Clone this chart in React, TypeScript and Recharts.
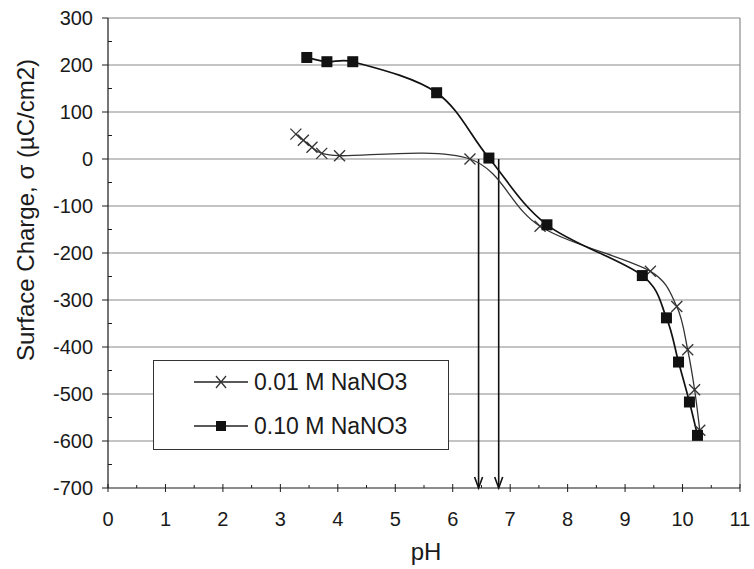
import { Label, Legend, Line, LineChart, ReferenceLine, XAxis, YAxis } from "recharts";

// 0.01 M NaNO3 (crosses)
const phLow = [3.27, 3.4, 3.55, 3.72, 4.03, 6.3, 7.52, 9.44, 9.9, 10.09, 10.21, 10.3];
const chargeLow = [53, 40, 25, 12, 7, 0, -143, -239, -314, -406, -491, -577];

// 0.10 M NaNO3 (squares)
const phHigh = [3.46, 3.81, 4.26, 5.72, 6.63, 7.64, 9.3, 9.72, 9.93, 10.12, 10.26];
const chargeHigh = [216, 207, 207, 141, 2, -140, -248, -338, -432, -517, -588];

const xTicks = [0, 0.5, 1, 1.5, 2, 2.5, 3, 3.5, 4, 4.5, 5, 5.5, 6, 6.5, 7, 7.5, 8, 8.5, 9, 9.5, 10, 10.5, 11];
const yTicks = [
  -700, -650, -600, -550, -500, -450, -400, -350, -300, -250, -200, -150, -100, -50, 0, 50, 100, 150, 200, 250, 300,
];
const gridValues = [-600, -500, -400, -300, -200, -100, 0, 100, 200, 300];
const pzcValues = [6.45, 6.8];

const lowData = phLow.map((x, i) => ({ x, y: chargeLow[i] }));
const highData = phHigh.map((x, i) => ({ x, y: chargeHigh[i] }));

const FONT = "'Liberation Sans', Arial, sans-serif";
const INK = "#1a1a1a";

// spreadsheet-style smoothed line (catmull-rom with clamped handles)
function smoothCurve(context: any) {
  let pts: number[][] = [];
  const handle = (a: number[], b: number[], maxLen: number) => {
    let dx = (b[0] - a[0]) / 6;
    let dy = (b[1] - a[1]) / 6;
    const len = Math.hypot(dx, dy);
    if (len > maxLen && len > 0) {
      dx = (dx * maxLen) / len;
      dy = (dy * maxLen) / len;
    }
    return [dx, dy];
  };
  return {
    areaStart() {},
    areaEnd() {},
    lineStart() {
      pts = [];
    },
    point(x: number, y: number) {
      pts.push([+x, +y]);
    },
    lineEnd() {
      if (!pts.length) return;
      context.moveTo(pts[0][0], pts[0][1]);
      for (let i = 0; i < pts.length - 1; i++) {
        const p0 = pts[i - 1] || pts[i];
        const p1 = pts[i];
        const p2 = pts[i + 1];
        const p3 = pts[i + 2] || p2;
        const seg = Math.hypot(p2[0] - p1[0], p2[1] - p1[1]);
        const h1 = handle(p0, p2, seg * 0.45);
        const h2 = handle(p1, p3, seg * 0.45);
        context.bezierCurveTo(p1[0] + h1[0], p1[1] + h1[1], p2[0] - h2[0], p2[1] - h2[1], p2[0], p2[1]);
      }
    },
  };
}

function crossDot(props: any) {
  const { cx, cy, index } = props;
  if (cx == null || cy == null) return <g key={index} />;
  const s = 5.5;
  return (
    <g key={index} stroke="#333" strokeWidth={1.3}>
      <line x1={cx - s} y1={cy - s} x2={cx + s} y2={cy + s} />
      <line x1={cx - s} y1={cy + s} x2={cx + s} y2={cy - s} />
    </g>
  );
}

function squareDot(props: any) {
  const { cx, cy, index } = props;
  if (cx == null || cy == null) return <g key={index} />;
  return <rect key={index} x={cx - 5.5} y={cy - 5.5} width={11} height={11} fill="#111" />;
}

function XTick(props: any) {
  const { x, y, payload } = props;
  const major = Number.isInteger(payload.value);
  return (
    <g>
      <line x1={x} x2={x} y1={major ? y - 4 : y - 3} y2={major ? y + 4 : y} stroke={INK} strokeWidth={1} />
      {major && (
        <text x={x} y={y + 31} textAnchor="middle" dominantBaseline="central" fontSize={20} fill={INK} fontFamily={FONT}>
          {payload.value}
        </text>
      )}
    </g>
  );
}

function YTick(props: any) {
  const { x, y, payload } = props;
  const major = payload.value % 100 === 0;
  return (
    <g>
      <line x1={major ? x - 6 : x} x2={major ? x : x + 4} y1={y} y2={y} stroke={INK} strokeWidth={1} />
      {major && (
        <text x={x - 15} y={y} textAnchor="end" dominantBaseline="central" fontSize={20} fill={INK} fontFamily={FONT}>
          {payload.value}
        </text>
      )}
    </g>
  );
}

function ArrowShape(props: any) {
  const { x1, y1, x2, y2 } = props;
  return (
    <g stroke="#111" strokeWidth={1.6} fill="none">
      <line x1={x1} y1={y1} x2={x2} y2={y2} />
      <polyline points={`${x2 - 4},${y2 - 11} ${x2},${y2} ${x2 + 4},${y2 - 11}`} />
    </g>
  );
}

function LegendBox() {
  const rows = [
    { name: "0.01 M NaNO3", kind: "cross" },
    { name: "0.10 M NaNO3", kind: "square" },
  ];
  return (
    <div
      style={{
        width: 296,
        height: 90,
        border: "1.5px solid #333",
        background: "#fff",
        boxSizing: "border-box",
        position: "relative",
        fontFamily: FONT,
      }}
    >
      {rows.map((r, i) => (
        <div
          key={r.name}
          style={{ position: "absolute", left: 40, top: 6 + i * 44, height: 30, display: "flex", alignItems: "center" }}
        >
          <svg width={56} height={20}>
            <line x1={0} x2={54} y1={10} y2={10} stroke="#222" strokeWidth={1.4} />
            {r.kind === "cross" ? (
              <g stroke="#333" strokeWidth={1.3}>
                <line x1={22} y1={4} x2={32} y2={16} />
                <line x1={22} y1={16} x2={32} y2={4} />
              </g>
            ) : (
              <rect x={22} y={5} width={10} height={10} fill="#111" />
            )}
          </svg>
          <span style={{ fontSize: 23, color: INK, marginLeft: 4, whiteSpace: "nowrap" }}>{r.name}</span>
        </div>
      ))}
    </div>
  );
}

export default function App() {
  return (
    <div style={{ width: 754, height: 569, background: "#fff" }}>
      <style>{`body{margin:0;background:#fff}`}</style>
      <LineChart width={754} height={569} margin={{ top: 18, right: 14, bottom: 21, left: 0 }}>
        {gridValues.map((v) => (
          <ReferenceLine key={v} y={v} stroke="#8a8a8a" strokeWidth={1.2} />
        ))}
        <ReferenceLine x={11} stroke="#8a8a8a" strokeWidth={1.2} />
        <XAxis
          type="number"
          dataKey="x"
          domain={[0, 11]}
          ticks={xTicks}
          interval={0}
          tickLine={false}
          tickSize={0}
          tickMargin={0}
          tick={<XTick />}
          height={60}
          axisLine={{ stroke: INK, strokeWidth: 1.2 }}
        >
          <Label
            content={() => (
              <text x={426} y={551} textAnchor="middle" dominantBaseline="central" fontSize={24} fill={INK} fontFamily={FONT}>
                pH
              </text>
            )}
          />
        </XAxis>
        <YAxis
          type="number"
          domain={[-700, 300]}
          ticks={yTicks}
          interval={0}
          tickLine={false}
          tickSize={0}
          tickMargin={0}
          tick={<YTick />}
          width={108}
          axisLine={{ stroke: INK, strokeWidth: 1.2 }}
        >
          <Label
            content={() => (
              <text
                x={25}
                y={210}
                transform="rotate(-90 25 210)"
                textAnchor="middle"
                dominantBaseline="central"
                fontSize={24}
                fill={INK}
                fontFamily={FONT}
              >
                Surface Charge, σ (µC/cm2)
              </text>
            )}
          />
        </YAxis>
        {pzcValues.map((v) => (
          <ReferenceLine
            key={`pzc-${v}`}
            segment={[
              { x: v, y: 0 },
              { x: v, y: -700 },
            ]}
            shape={ArrowShape}
          />
        ))}
        <Line
          data={lowData}
          dataKey="y"
          type={smoothCurve as any}
          stroke="#333"
          strokeWidth={1.3}
          dot={crossDot}
          activeDot={false}
          isAnimationActive={false}
          name="0.01 M NaNO3"
        />
        <Line
          data={highData}
          dataKey="y"
          type={smoothCurve as any}
          stroke="#111"
          strokeWidth={1.7}
          dot={squareDot}
          activeDot={false}
          isAnimationActive={false}
          name="0.10 M NaNO3"
        />
        <Legend
          layout="horizontal"
          verticalAlign="middle"
          align="center"
          content={() => <LegendBox />}
          wrapperStyle={{ left: 153, top: 360, width: 296, height: 90 }}
        />
      </LineChart>
    </div>
  );
}
